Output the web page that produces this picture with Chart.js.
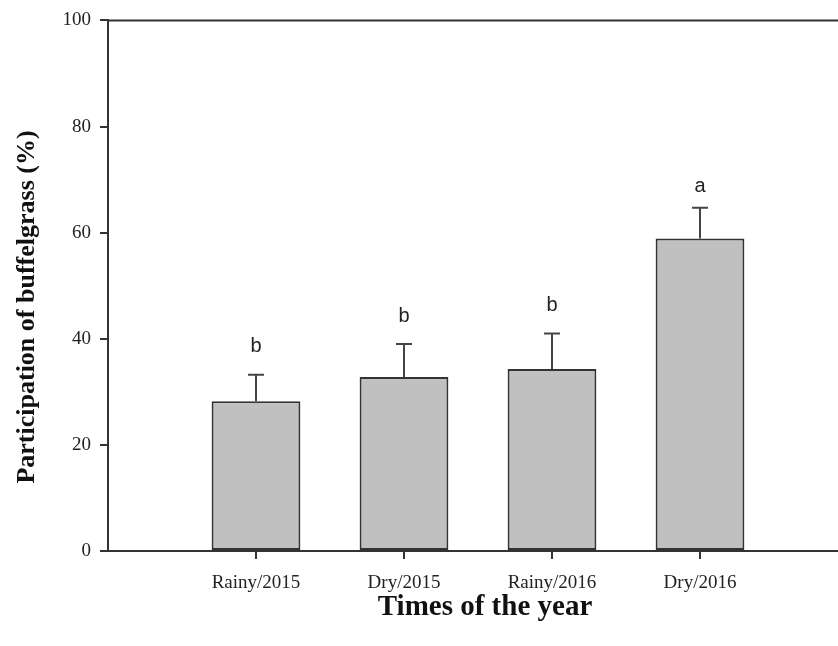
<!DOCTYPE html>
<html>
<head>
<meta charset="utf-8">
<script src="https://cdn.jsdelivr.net/npm/chart.js@4.4.0/dist/chart.umd.min.js"></script>
<style>
  html, body { margin: 0; padding: 0; background: #fff; }
  #wrap { width: 838px; height: 646px; overflow: hidden; }
  #box { width: 850px; height: 646px; position: relative; }
</style>
</head>
<body>
<div id="wrap"><div id="box"><canvas id="chart"></canvas></div></div>
<script>
// values
const seasons = ['Rainy/2015', 'Dry/2015', 'Rainy/2016', 'Dry/2016'];
const participation = [28.2, 32.8, 34.3, 58.9];
const stdError = [5.0, 6.2, 6.7, 5.8];
const letters = ['b', 'b', 'b', 'a'];
const letterAt = [37.5, 43.1, 45.3, 67.6];
const yTicks = [0, 20, 40, 60, 80, 100];

const xTitle = 'Times of the year';
const yTitle = 'Participation of buffelgrass (%)';

const ink = '#333333';
const serif = '"Liberation Serif", "Times New Roman", serif';

// error bars (upper only), group letters, top frame line and axis titles
const extras = {
  id: 'extras',
  afterDatasetsDraw(chart) {
    const ctx = chart.ctx;
    const y = chart.scales.y;
    const area = chart.chartArea;
    const bars = chart.getDatasetMeta(0).data;
    ctx.save();
    ctx.strokeStyle = '#444';
    ctx.lineWidth = 2;
    bars.forEach((bar, i) => {
      const top = y.getPixelForValue(participation[i]);
      const err = y.getPixelForValue(participation[i] + stdError[i]);
      ctx.beginPath();
      ctx.moveTo(bar.x, top);
      ctx.lineTo(bar.x, err);
      ctx.moveTo(bar.x - 8, err);
      ctx.lineTo(bar.x + 8, err);
      ctx.stroke();
      ctx.fillStyle = '#222';
      ctx.font = '20px "Liberation Sans", Arial, sans-serif';
      ctx.textAlign = 'center';
      ctx.textBaseline = 'alphabetic';
      ctx.fillText(letters[i], bar.x, y.getPixelForValue(letterAt[i]));
    });
    ctx.strokeStyle = ink;
    ctx.beginPath();
    ctx.moveTo(area.left - 1, area.top);
    ctx.lineTo(area.right, area.top);
    ctx.stroke();

    // axis titles
    ctx.fillStyle = '#111';
    ctx.textAlign = 'center';
    ctx.textBaseline = 'middle';
    ctx.font = 'bold 29px ' + serif;
    ctx.fillText(xTitle, 485, 608);
    ctx.translate(27, 307);
    ctx.rotate(-Math.PI / 2);
    ctx.font = 'bold 26px ' + serif;
    ctx.fillText(yTitle, 0, 0);
    ctx.restore();
  }
};

new Chart(document.getElementById('chart'), {
  type: 'bar',
  data: {
    datasets: [{
      data: participation.map((v, i) => ({ x: i + 1, y: v })),
      backgroundColor: '#c0c0c0',
      borderColor: ink,
      borderWidth: 2,
      borderSkipped: false,
      barPercentage: 0.75,
      categoryPercentage: 0.8
    }]
  },
  options: {
    responsive: true,
    maintainAspectRatio: false,
    animation: false,
    layout: { padding: { top: 17, right: 2, left: 0, bottom: 0 } },
    plugins: { legend: { display: false }, tooltip: { enabled: false } },
    scales: {
      x: {
        type: 'linear',
        min: 0,
        max: 5,
        offset: false,
        afterBuildTicks: s => { s.ticks = seasons.map((_, i) => ({ value: i + 1 })); },
        afterFit: s => { s.height = 95; },
        grid: { offset: false, drawOnChartArea: false, drawTicks: true, tickLength: 8, color: ink, lineWidth: 2 },
        border: { color: ink, width: 2 },
        ticks: {
          callback: v => seasons[v - 1],
          color: '#222',
          padding: 13,
          maxRotation: 0,
          autoSkip: false,
          font: { family: serif, size: 19 }
        }
      },
      y: {
        min: 0,
        max: 100,
        afterBuildTicks: s => { s.ticks = yTicks.map(v => ({ value: v })); },
        afterFit: s => { s.width = 108; },
        grid: { drawOnChartArea: false, drawTicks: true, tickLength: 8, color: ink, lineWidth: 2 },
        border: { color: ink, width: 2 },
        ticks: {
          color: '#222',
          padding: 9,
          font: { family: serif, size: 19 }
        }
      }
    }
  },
  plugins: [extras]
});
</script>
</body>
</html>
